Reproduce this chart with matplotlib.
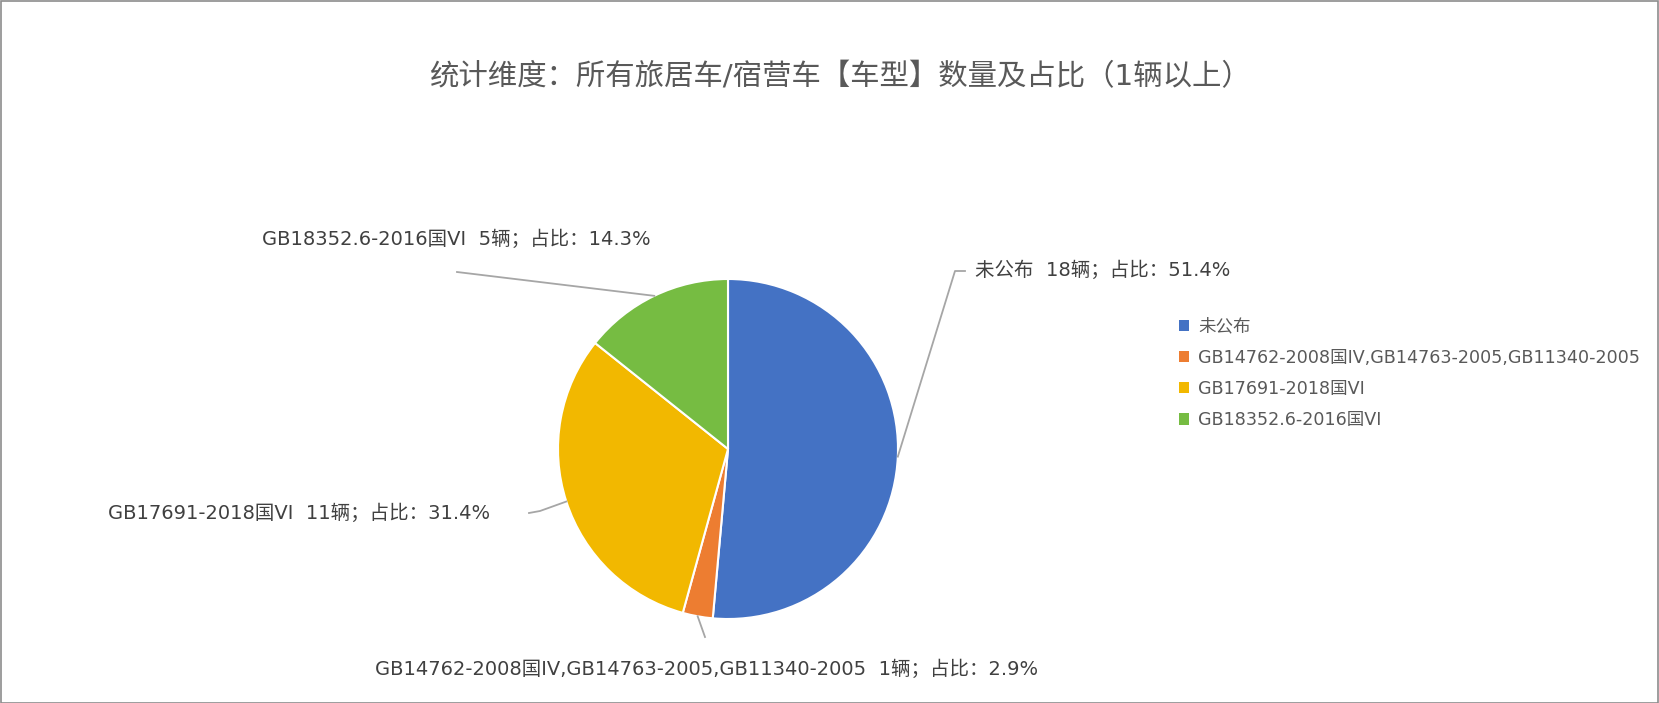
import matplotlib.pyplot as plt
from matplotlib.lines import Line2D
from matplotlib.patches import Rectangle
import numpy as np

plt.rcParams['font.family'] = ['DejaVu Sans', 'Noto Sans CJK SC']

# 车型数量（辆）
categories = ['未公布',
              'GB14762-2008国IV,GB14763-2005,GB11340-2005',
              'GB17691-2018国VI',
              'GB18352.6-2016国VI']
counts = [18, 1, 11, 5]
colors = ['#4472C4', '#ED7D31', '#F2B800', '#76BC42']

title = '统计维度：所有旅居车/宿营车【车型】数量及占比（1辆以上）'

W, H = 1659, 703
fig = plt.figure(figsize=(W / 100, H / 100), dpi=100)
fig.patch.set_facecolor('white')
fig.add_artist(Rectangle((0.5 / W, 0.5 / H), 1 - 1.5 / W, 1 - 1.5 / H,
                         transform=fig.transFigure, fill=False,
                         edgecolor='#8c8c8c', linewidth=1.2))

# 饼图区域（像素，原点在左上）
cx, cy, r = 728, 449, 170
ax = fig.add_axes([(cx - r) / W, (H - cy - r) / H, 2 * r / W, 2 * r / H])
wedges, _ = ax.pie(counts, colors=colors, startangle=90, counterclock=False,
                   wedgeprops=dict(edgecolor='white', linewidth=1.5))
ax.set_xlim(-1, 1)
ax.set_ylim(-1, 1)
ax.set_aspect('equal')
ax.axis('off')

fig.text(840 / W, 1 - 77 / H, title, ha='center', va='center',
         fontsize=21.2, color='#595959')

total = sum(counts)
# 标签位置：文字锚点、对齐方式、引导线折点（像素，原点在左上）
label_pos = [
    dict(xy=(975, 270), ha='left', va='center', path=[(955, 271), (965, 271)]),
    dict(xy=(707, 669), ha='center', va='center', path=[(705, 637)]),
    dict(xy=(490, 513), ha='right', va='center', path=[(540, 511), (529, 513)]),
    dict(xy=(456, 239), ha='center', va='center', path=[(457, 272)]),
]

def to_fig(px, py):
    return px / W, 1 - py / H

for w, name, n, pos in zip(wedges, categories, counts, label_pos):
    mid = np.deg2rad((w.theta1 + w.theta2) / 2)
    sx, sy = cx + r * np.cos(mid), cy - r * np.sin(mid)
    pts = [(sx, sy)] + pos['path']
    xs, ys = zip(*[to_fig(*p) for p in pts])
    fig.add_artist(Line2D(xs, ys, transform=fig.transFigure,
                          color='#a6a6a6', linewidth=1.3))
    txt = f'{name}  {n}辆；占比：{n / total * 100:.1f}%'
    fx, fy = to_fig(*pos['xy'])
    fig.text(fx, fy, txt, ha=pos['ha'], va=pos['va'],
             fontsize=14, color='#404040')

handles = [Rectangle((0, 0), 1, 1, facecolor=c, edgecolor='none') for c in colors]
fig.legend(handles, categories, loc='upper left',
           bbox_to_anchor=(1163 / W, 1 - 302 / H), frameon=False,
           fontsize=12.6, labelcolor='#595959', handlelength=0.6,
           handleheight=0.6, handletextpad=0.5, labelspacing=0.75)

fig.savefig('out.png', dpi=100)
